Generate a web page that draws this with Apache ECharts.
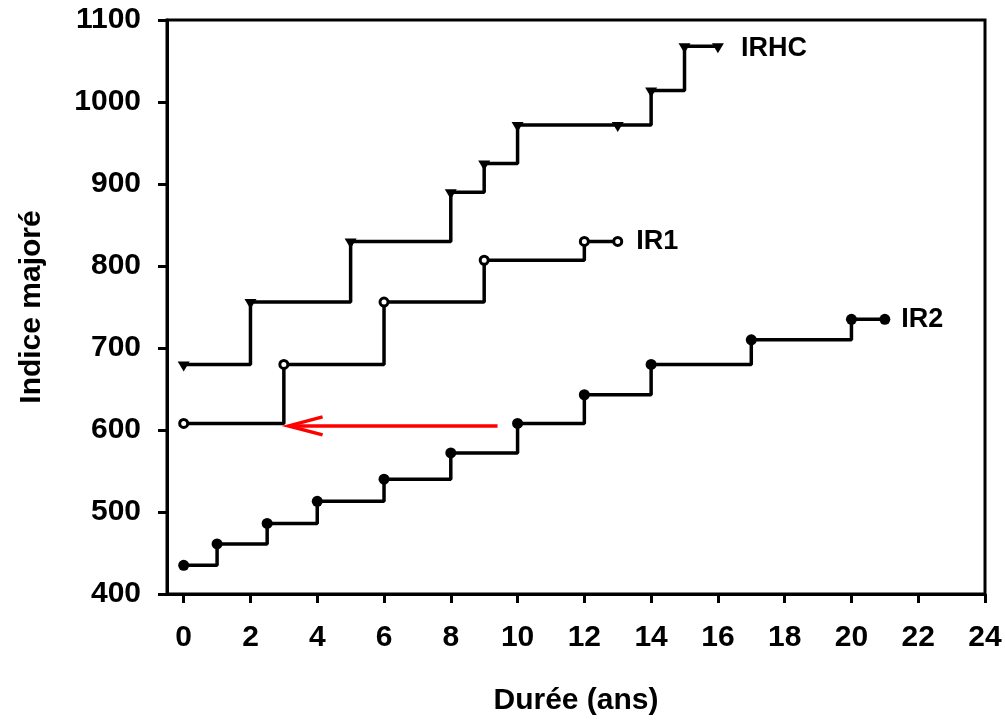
<!DOCTYPE html>
<html>
<head>
<meta charset="utf-8">
<script src="https://cdn.jsdelivr.net/npm/echarts@6/dist/echarts.min.js"></script>
<style>
html,body{margin:0;padding:0;background:#fff;}
#chart{width:1005px;height:721px;}
</style>
</head>
<body>
<div id="chart"></div>
<script>
// Data
const xTicks = [0, 2, 4, 6, 8, 10, 12, 14, 16, 18, 20, 22, 24];
const irhcX = [0, 2, 5, 8, 9, 10, 13, 14, 15, 16];
const irhcY = [680, 756, 830, 890, 925, 972, 972, 1014, 1068, 1068];
const ir1X = [0, 3, 6, 9, 12, 13];
const ir1Y = [608, 680, 756, 807, 830, 830];
const ir2X = [0, 1, 2.5, 4, 6, 8, 10, 12, 14, 17, 20, 21];
const ir2Y = [435, 461, 486, 513, 540, 572, 608, 643, 680, 710, 735, 735];
const seriesNames = ['IRHC', 'IR1', 'IR2'];
const arrowShaft = [[9.4, 605], [3.2, 605]];
const arrowHead = [[4.16, 616], [3.14, 605], [4.16, 594]];

const FONT = '"Liberation Sans", Arial, sans-serif';

function build(xs, ys, name, gap) {
  return xs.map((x, i) => {
    const item = { value: [x, ys[i]] };
    if (i === xs.length - 1) {
      item.label = {
        show: true, formatter: name, position: 'right', distance: gap,
        fontFamily: FONT, fontWeight: 'bold', fontSize: 27, color: '#000'
      };
    }
    return item;
  });
}

const chart = echarts.init(document.getElementById('chart'), null, { renderer: 'canvas' });
const axisFont = { fontFamily: FONT, fontWeight: 'bold', fontSize: 30, color: '#000' };

chart.setOption({
  animation: false,
  backgroundColor: '#fff',
  grid: { left: 167, right: 20, top: 20, bottom: 127, show: true, borderColor: '#000', borderWidth: 3, backgroundColor: 'transparent' },
  xAxis: {
    type: 'value', min: -0.5, max: 24,
    name: 'Durée (ans)', nameLocation: 'middle', nameGap: 92,
    nameTextStyle: axisFont,
    axisLine: { show: true, onZero: false, lineStyle: { color: '#000', width: 3 } },
    axisTick: { show: true, customValues: xTicks, length: 9, lineStyle: { color: '#000', width: 3 } },
    axisLabel: Object.assign({ customValues: xTicks, margin: 29, formatter: v => String(v) }, axisFont),
    splitLine: { show: false }
  },
  yAxis: {
    type: 'value', min: 400, max: 1100, interval: 100,
    name: 'Indice majoré', nameLocation: 'middle', nameGap: 120,
    nameTextStyle: axisFont,
    axisLine: { show: true, onZero: false, lineStyle: { color: '#000', width: 3 } },
    axisTick: { show: true, length: 9, lineStyle: { color: '#000', width: 3 } },
    axisLabel: Object.assign({ margin: 26, formatter: v => String(v) }, axisFont),
    splitLine: { show: false }
  },
  series: [
    {
      name: seriesNames[0], type: 'line', step: 'end',
      data: build(irhcX, irhcY, seriesNames[0], 17),
      symbol: 'triangle', symbolRotate: 180, symbolSize: [12, 10], symbolOffset: [0, 2],
      itemStyle: { color: '#000' },
      lineStyle: { color: '#000', width: 3.5 }
    },
    {
      name: seriesNames[1], type: 'line', step: 'end',
      data: build(ir1X, ir1Y, seriesNames[1], 13),
      symbol: 'circle', symbolSize: 8,
      itemStyle: { color: '#fff', borderColor: '#000', borderWidth: 3 },
      lineStyle: { color: '#000', width: 3.5 }
    },
    {
      name: seriesNames[2], type: 'line', step: 'end',
      data: build(ir2X, ir2Y, seriesNames[2], 11),
      symbol: 'circle', symbolSize: 11,
      itemStyle: { color: '#000' },
      lineStyle: { color: '#000', width: 3.5 }
    },
    {
      name: 'arrowShaft', type: 'line', data: arrowShaft, symbol: 'none',
      lineStyle: { color: '#ff0000', width: 3.5 }, silent: true
    },
    {
      name: 'arrowHead', type: 'line', data: arrowHead, symbol: 'none',
      lineStyle: { color: '#ff0000', width: 3.5, join: 'miter' }, silent: true
    }
  ]
});
</script>
</body>
</html>
